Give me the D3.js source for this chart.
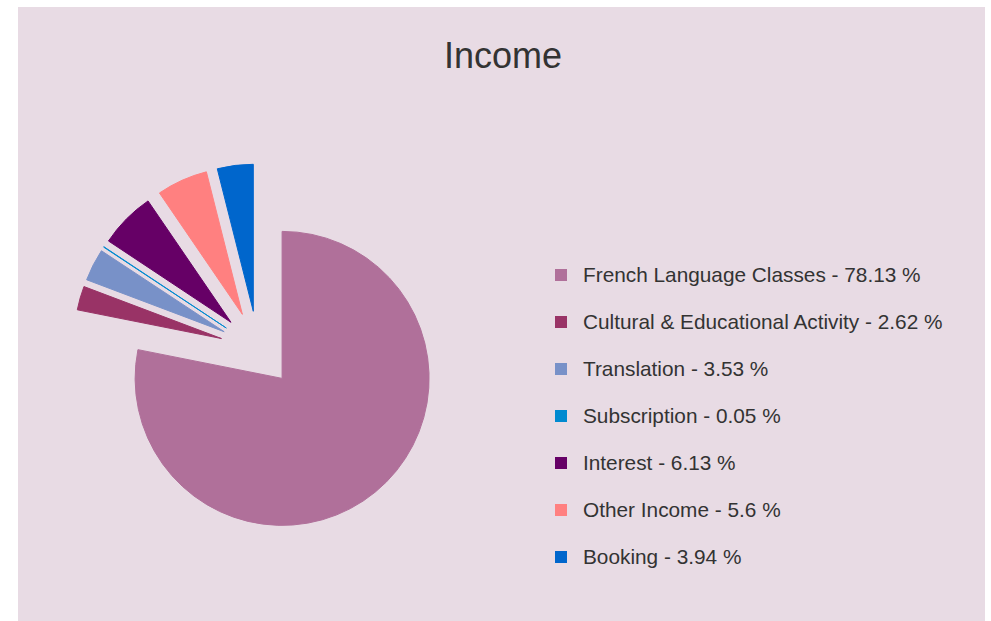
<!DOCTYPE html>
<html>
<head>
<meta charset="utf-8">
<script src="https://cdn.jsdelivr.net/npm/d3@7"></script>
<style>
  body { margin: 0; background: #fff; }
  svg { display: block; font-family: "Liberation Sans", Arial, sans-serif; }
</style>
</head>
<body>
<div id="chart"></div>
<script>
const width = 991;
const height = 621;

const categories = ['French Language Classes', 'Cultural & Educational Activity', 'Translation',
  'Subscription', 'Interest', 'Other Income', 'Booking'];
const values = [78.13, 2.62, 3.53, 0.05, 6.13, 5.6, 3.94];
const colors = ['#b0709a', '#993366', '#7891c8', '#008ad0', '#660066', '#ff8080', '#0066cc'];

const bgColor = '#e8dbe4';
const textColor = '#333333';

const cx = 258, cy = 349;
const radius = 147;
const explode = 38;

const svg = d3.select('#chart')
    .append('svg')
    .attr('width', width)
    .attr('height', height);

svg.append('rect')
    .attr('x', 18)
    .attr('y', 7)
    .attr('width', 967)
    .attr('height', height - 7)
    .attr('fill', bgColor);

svg.append('text')
    .attr('x', 503)
    .attr('y', 68)
    .attr('text-anchor', 'middle')
    .attr('fill', textColor)
    .style('font-size', '36px')
    .text('Income');

const pie = d3.pie().sort(null).value(d => d);
const arc = d3.arc().innerRadius(0).outerRadius(radius);

const pieGroup = svg.append('g')
    .attr('transform', 'translate(' + cx + ',' + cy + ')');

pieGroup.selectAll('path')
    .data(pie(values))
    .enter()
    .append('path')
    .attr('d', arc)
    .attr('fill', (d, i) => colors[i])
    .attr('stroke', (d, i) => colors[i])
    .attr('stroke-width', 1)
    .attr('stroke-linejoin', 'round')
    .attr('transform', d => {
        const mid = (d.startAngle + d.endAngle) / 2;
        return 'translate(' + (Math.sin(mid) * explode) + ',' + (-Math.cos(mid) * explode) + ')';
    });

const legendY = d3.scalePoint()
    .domain(categories)
    .range([275, 557]);

const legend = svg.append('g');

const items = legend.selectAll('g')
    .data(categories)
    .enter()
    .append('g')
    .attr('transform', d => 'translate(555,' + legendY(d) + ')');

items.append('rect')
    .attr('x', 0)
    .attr('y', -6)
    .attr('width', 12)
    .attr('height', 12)
    .attr('fill', (d, i) => colors[i]);

items.append('text')
    .attr('x', 28)
    .attr('y', 7)
    .attr('fill', textColor)
    .style('font-size', '20.8px')
    .text((d, i) => d + ' - ' + values[i] + ' %');
</script>
</body>
</html>
